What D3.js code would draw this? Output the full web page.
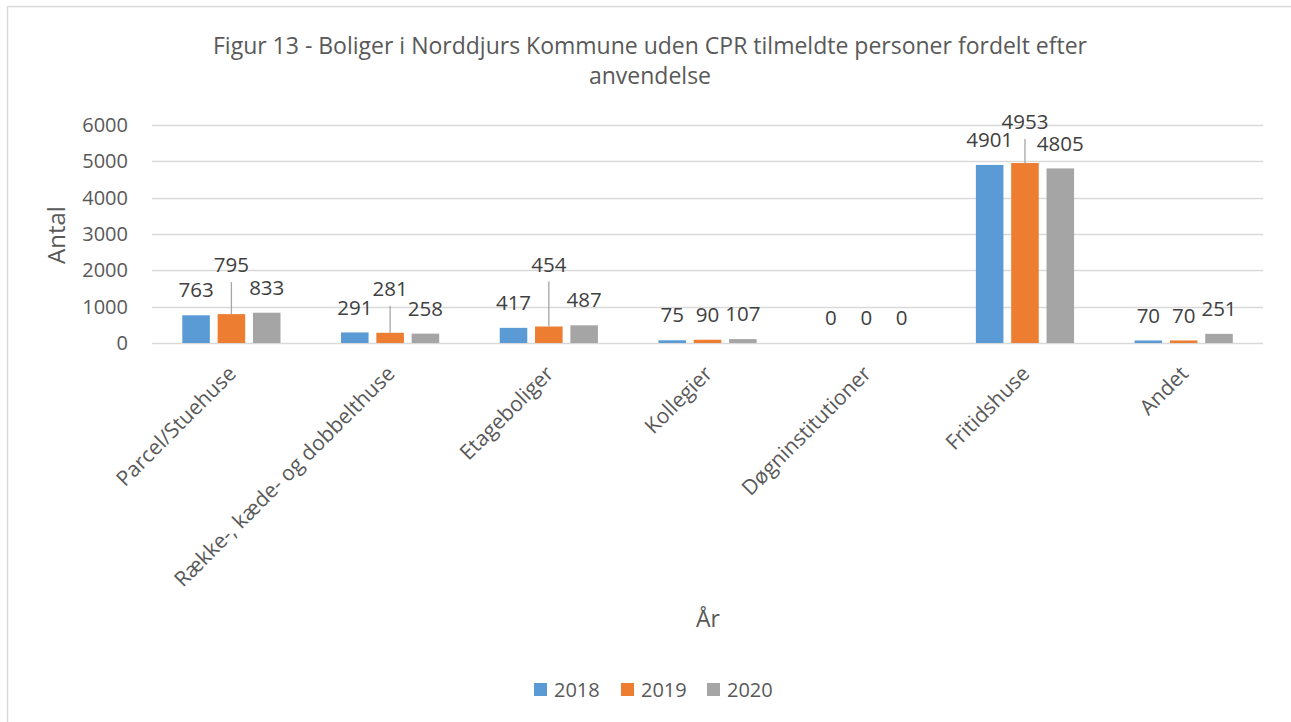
<!DOCTYPE html>
<html>
<head>
<meta charset="utf-8">
<script src="https://cdn.jsdelivr.net/npm/d3@7"></script>
<style>
  body { margin: 0; background: #fff; }
  text { font-family: "Open Sans", sans-serif; }
</style>
</head>
<body>
<div class="chart"></div>
<script>
// chart data
var categories = ["Parcel/Stuehuse", "Række-, kæde- og dobbelthuse", "Etageboliger",
  "Kollegier", "Døgninstitutioner", "Fritidshuse", "Andet"];
var years = ["2018", "2019", "2020"];
var values2018 = [763, 291, 417, 75, 0, 4901, 70];
var values2019 = [795, 281, 454, 90, 0, 4953, 70];
var values2020 = [833, 258, 487, 107, 0, 4805, 251];
var yTicks = [0, 1000, 2000, 3000, 4000, 5000, 6000];

// label placement: extra lift (px) for the 2019 labels that were dragged up in the original
var liftedLabel2019 = [24, 19, 37, 0, 0, 16, 0];

var colors = ["#5b9bd5", "#ed7d31", "#a5a5a5"];
var seriesValues = [values2018, values2019, values2020];

var svgWidth = 1291;
var svgHeight = 722;

var margin = { top: 125, right: 28, bottom: 379, left: 152 };
var width = svgWidth - margin.left - margin.right;
var height = svgHeight - margin.top - margin.bottom;

var svg = d3.select(".chart")
  .append("svg")
  .attr("width", svgWidth)
  .attr("height", svgHeight);

// chart frame
svg.append("rect")
  .attr("x", 7.5)
  .attr("y", 6.5)
  .attr("width", svgWidth + 20)
  .attr("height", svgHeight + 20)
  .attr("fill", "none")
  .attr("stroke", "#d9d9d9")
  .attr("stroke-width", 1.5);

// title
var title = svg.append("text")
  .attr("text-anchor", "middle")
  .style("font-size", "23px")
  .style("fill", "#595959");
title.append("tspan").attr("x", 650).attr("y", 54)
  .text("Figur 13 - Boliger i Norddjurs Kommune uden CPR tilmeldte personer fordelt efter");
title.append("tspan").attr("x", 650).attr("y", 84)
  .text("anvendelse");

var chartGroup = svg.append("g")
  .attr("transform", `translate(${margin.left}, ${margin.top})`);

// scales
var x0 = d3.scaleBand()
  .domain(categories)
  .range([0, width]);

var x1 = d3.scaleBand()
  .domain(years)
  .range([30.3, 128.5])
  .paddingInner(0.22);

var yScale = d3.scaleLinear()
  .domain([0, 6000])
  .range([height, 0]);

// gridlines
chartGroup.selectAll(".grid")
  .data(yTicks)
  .enter()
  .append("line")
  .attr("x1", 0)
  .attr("x2", width)
  .attr("y1", d => Math.round(yScale(d)) + 0.5)
  .attr("y2", d => Math.round(yScale(d)) + 0.5)
  .attr("stroke", "#d9d9d9")
  .attr("stroke-width", 1.3);

// y axis labels
var leftAxis = d3.axisLeft(yScale)
  .tickValues(yTicks)
  .tickFormat(d3.format("d"))
  .tickSize(0)
  .tickPadding(24);
var yAxisG = chartGroup.append("g").call(leftAxis);
yAxisG.select(".domain").remove();
yAxisG.selectAll("text")
  .style("font-family", "'Open Sans', sans-serif")
  .style("font-size", "20px")
  .style("fill", "#595959");

// bars
var groups = chartGroup.selectAll(".cat")
  .data(categories)
  .enter()
  .append("g")
  .attr("transform", d => `translate(${x0(d)}, 0)`);

years.forEach(function (yr, s) {
  groups.append("rect")
    .attr("x", x1(yr))
    .attr("width", x1.bandwidth())
    .attr("y", (d, i) => yScale(seriesValues[s][i]))
    .attr("height", (d, i) => height - yScale(seriesValues[s][i]))
    .attr("fill", colors[s]);
});

// leader lines for the lifted labels
groups.filter((d, i) => liftedLabel2019[i] > 0)
  .append("line")
  .attr("x1", x1("2019") + x1.bandwidth() / 2)
  .attr("x2", x1("2019") + x1.bandwidth() / 2)
  .each(function (d) {
    var i = categories.indexOf(d);
    var top = yScale(values2019[i]);
    d3.select(this)
      .attr("y1", top - 25 - liftedLabel2019[i] + 17)
      .attr("y2", top);
  })
  .attr("stroke", "#a6a6a6")
  .attr("stroke-width", 1.3);

// data labels
years.forEach(function (yr, s) {
  groups.append("text")
    .attr("x", x1(yr) + x1.bandwidth() / 2)
    .attr("y", (d, i) => yScale(seriesValues[s][i]) - 25 - (s === 1 ? liftedLabel2019[i] : 0))
    .attr("dy", "0.35em")
    .attr("text-anchor", "middle")
    .style("font-size", "20.5px")
    .style("fill", "#404040")
    .text((d, i) => seriesValues[s][i]);
});

// category labels, rotated
chartGroup.selectAll(".catlabel")
  .data(categories)
  .enter()
  .append("text")
  .attr("text-anchor", "end")
  .attr("transform", d => `translate(${x0(d) + x0.bandwidth() / 2 + 6}, ${height + 32}) rotate(-45)`)
  .style("font-size", "21px")
  .style("fill", "#595959")
  .text(d => d);

// axis titles
svg.append("text")
  .attr("transform", "translate(65, 235) rotate(-90)")
  .attr("text-anchor", "middle")
  .style("font-size", "24px")
  .style("fill", "#595959")
  .text("Antal");

svg.append("text")
  .attr("x", 708)
  .attr("y", 627)
  .attr("text-anchor", "middle")
  .style("font-size", "23px")
  .style("fill", "#595959")
  .text("År");

// legend
var legendX = [534, 621, 707];
var legend = svg.selectAll(".legend")
  .data(years)
  .enter()
  .append("g")
  .attr("transform", (d, i) => `translate(${legendX[i]}, 683)`);

legend.append("rect")
  .attr("width", 13)
  .attr("height", 13)
  .attr("fill", (d, i) => colors[i]);

legend.append("text")
  .attr("x", 20)
  .attr("y", 14)
  .style("font-size", "20px")
  .style("fill", "#595959")
  .text(d => d);
</script>
</body>
</html>
